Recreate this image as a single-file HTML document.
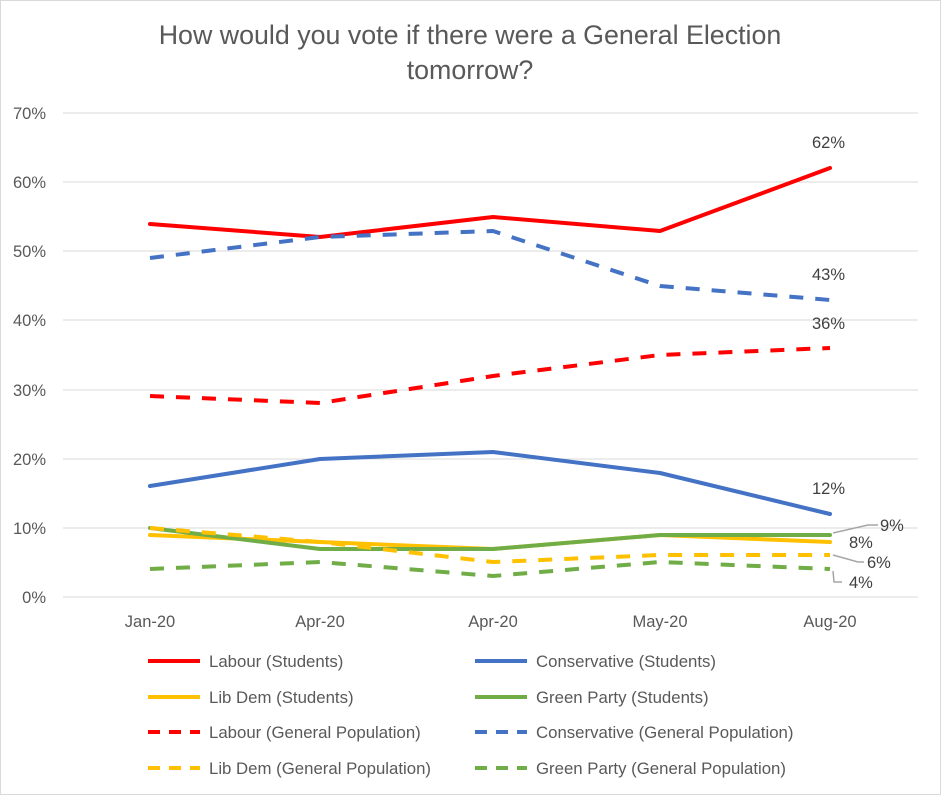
<!DOCTYPE html><html><head><style>body{margin:0;background:#fff}svg{font-family:"Liberation Sans",Arial,sans-serif}</style></head><body>
<svg width="941" height="795" viewBox="0 0 941 795">
<rect x="0.5" y="0.5" width="940" height="794" fill="#fff" stroke="#d9d9d9"/>
<text x="470" y="44" text-anchor="middle" font-size="26.8" fill="#595959">How would you vote if there were a General Election</text>
<text x="470" y="79" text-anchor="middle" font-size="26.8" fill="#595959">tomorrow?</text>
<g stroke="#d9d9d9" stroke-width="1">
<line x1="63" x2="918" y1="113" y2="113"/><line x1="63" x2="918" y1="182" y2="182"/><line x1="63" x2="918" y1="251" y2="251"/><line x1="63" x2="918" y1="320" y2="320"/><line x1="63" x2="918" y1="390" y2="390"/><line x1="63" x2="918" y1="459" y2="459"/><line x1="63" x2="918" y1="528" y2="528"/><line x1="63" x2="918" y1="597" y2="597"/>
</g>
<g font-size="16.5" fill="#595959" text-anchor="end">
<text x="46" y="119">70%</text><text x="46" y="188">60%</text><text x="46" y="257">50%</text><text x="46" y="326">40%</text><text x="46" y="396">30%</text><text x="46" y="465">20%</text><text x="46" y="534">10%</text><text x="46" y="603">0%</text>
</g>
<g font-size="16.5" fill="#595959" text-anchor="middle">
<text x="150" y="627">Jan-20</text><text x="320" y="627">Apr-20</text><text x="493" y="627">Apr-20</text><text x="660" y="627">May-20</text><text x="830" y="627">Aug-20</text>
</g>
<g fill="none" stroke-width="4" stroke-linejoin="round" stroke-linecap="round">
<polyline stroke="#ff0000" points="150,224 320,237 493,217 660,231 830,168"/>
<polyline stroke="#4472c4" points="150,486 320,459 493,452 660,473 830,514"/>
<polyline stroke="#ffc000" points="150,535 320,542 493,549 660,535 830,542"/>
<polyline stroke="#70ad47" points="150,528 320,549 493,549 660,535 830,535"/>
<g stroke-dasharray="14,12" stroke-linecap="butt">
<polyline stroke="#ff0000" points="150,396 320,403 493,376 660,355 830,348"/>
<polyline stroke="#4472c4" points="150,258 320,237 493,231 660,286 830,300"/>
<polyline stroke="#ffc000" points="150,528 320,542 493,562 660,555 830,555"/>
<polyline stroke="#70ad47" points="150,569 320,562 493,576 660,562 830,569"/>
</g></g>
<g stroke="#a6a6a6" stroke-width="1.5" fill="none">
<polyline points="833,533 868,525 878,525"/><polyline points="833,555 858,562 864,562"/><polyline points="833,571 834,582 842,582"/>
</g>
<g font-size="16.5" fill="#404040">
<text x="812" y="148">62%</text><text x="812" y="280">43%</text><text x="812" y="329">36%</text><text x="812" y="494">12%</text>
<text x="880" y="531">9%</text><text x="849" y="548">8%</text><text x="867" y="568">6%</text><text x="849" y="588">4%</text>
</g>
<g stroke-width="4" fill="none">
<line x1="148" x2="200" y1="661" y2="661" stroke="#ff0000"/>
<line x1="475" x2="527" y1="661" y2="661" stroke="#4472c4"/>
<line x1="148" x2="200" y1="697" y2="697" stroke="#ffc000"/>
<line x1="475" x2="527" y1="697" y2="697" stroke="#70ad47"/>
<g stroke-dasharray="12,9"><line x1="148" x2="200" y1="732" y2="732" stroke="#ff0000"/>
<line x1="475" x2="527" y1="732" y2="732" stroke="#4472c4"/>
<line x1="148" x2="200" y1="768" y2="768" stroke="#ffc000"/>
<line x1="475" x2="527" y1="768" y2="768" stroke="#70ad47"/></g>
</g>
<g font-size="16.8" fill="#595959">
<text x="209" y="667">Labour (Students)</text><text x="536" y="667">Conservative (Students)</text>
<text x="209" y="703">Lib Dem (Students)</text><text x="536" y="703">Green Party (Students)</text>
<text x="209" y="738">Labour (General Population)</text><text x="536" y="738">Conservative (General Population)</text>
<text x="209" y="774">Lib Dem (General Population)</text><text x="536" y="774">Green Party (General Population)</text>
</g>
</svg></body></html>
